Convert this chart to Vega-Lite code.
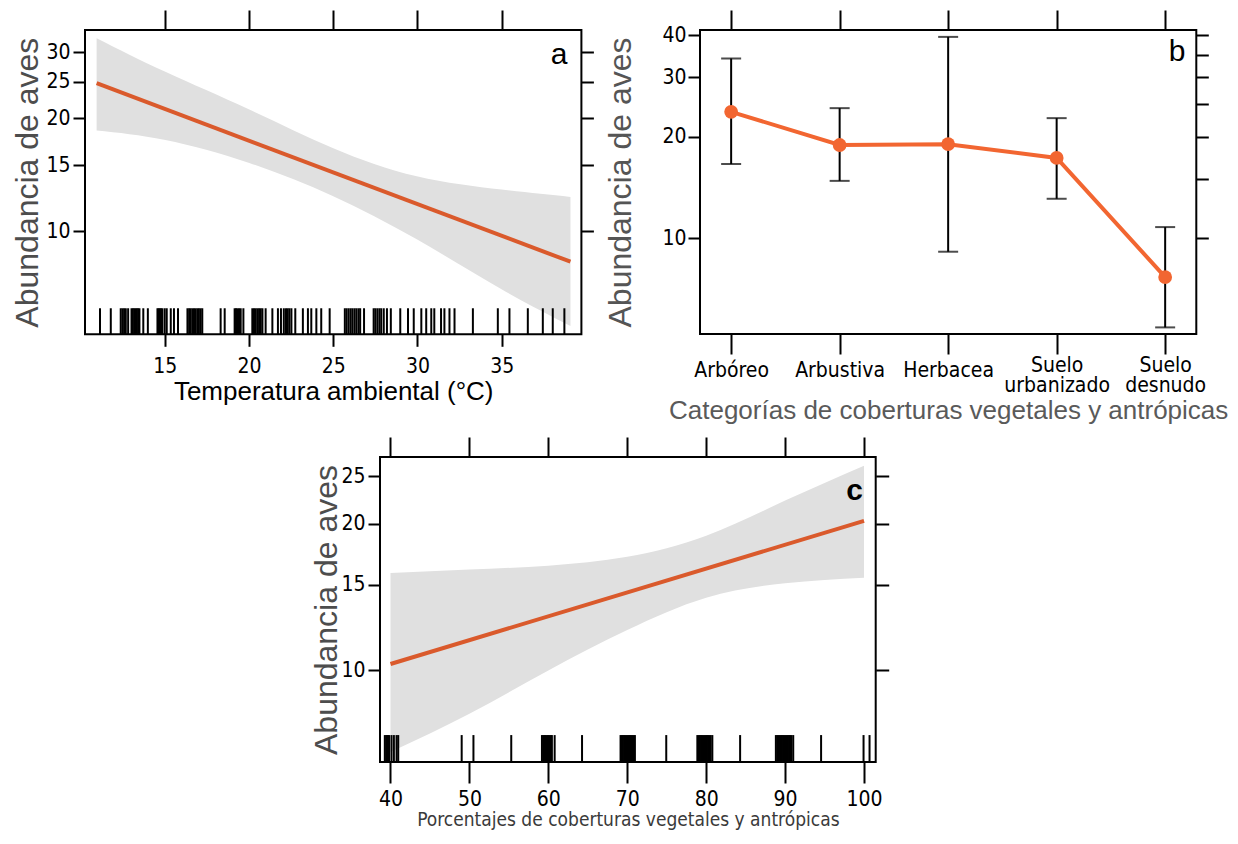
{
  "$schema": "https://vega.github.io/schema/vega-lite/v6.json",
  "background": "white",
  "padding": {"left": 10, "top": 8, "right": 0, "bottom": 0},
  "config": {
    "view": {"stroke": "#000", "strokeWidth": 2},
    "font": "Liberation Sans",
    "axis": {
      "domain": false, "grid": false, "tickColor": "#000", "tickWidth": 2,
      "labelColor": "#000", "labelFont": "DejaVu Sans Condensed, Roboto Condensed, Roboto, sans-serif", "labelFontSize": 21,
      "titleFont": "Liberation Sans", "titleFontWeight": "normal",
      "labelFlush": false, "labelOverlap": false, "labelBound": false
    }
  },
  "datasets": {
    "a_band": [
      {"temp": 10.96, "upper": 32.7, "lower": 18.56},
      {"temp": 15.04, "upper": 26.6, "lower": 17.5},
      {"temp": 20.02, "upper": 21.1, "lower": 15.2},
      {"temp": 24.97, "upper": 16.66, "lower": 12.4},
      {"temp": 29.96, "upper": 14.0, "lower": 9.5},
      {"temp": 34.99, "upper": 12.9, "lower": 6.99},
      {"temp": 39.08, "upper": 12.33, "lower": 5.58}
    ],
    "a_fit": [
      {"temp": 10.96, "fit": 24.8},
      {"temp": 39.08, "fit": 8.28}
    ],
    "a_rug": [
      {"temp": 11.16}, {"temp": 11.8}, {"temp": 12.39}, {"temp": 12.49}, {"temp": 12.59}, {"temp": 12.69}, {"temp": 12.83},
      {"temp": 13.03}, {"temp": 13.11}, {"temp": 13.19}, {"temp": 13.27}, {"temp": 13.34}, {"temp": 13.42}, {"temp": 13.5},
      {"temp": 13.73}, {"temp": 14.0}, {"temp": 14.57}, {"temp": 14.64}, {"temp": 14.7}, {"temp": 14.78}, {"temp": 14.86},
      {"temp": 15.0}, {"temp": 15.12}, {"temp": 15.36}, {"temp": 15.55}, {"temp": 15.79},
      {"temp": 16.35}, {"temp": 16.45}, {"temp": 16.54}, {"temp": 16.64}, {"temp": 16.74}, {"temp": 16.84}, {"temp": 16.94},
      {"temp": 17.03}, {"temp": 17.13}, {"temp": 17.23}, {"temp": 18.32}, {"temp": 18.56},
      {"temp": 19.15}, {"temp": 19.23}, {"temp": 19.31}, {"temp": 19.41}, {"temp": 19.51}, {"temp": 19.67},
      {"temp": 20.2}, {"temp": 20.3}, {"temp": 20.4}, {"temp": 20.5}, {"temp": 20.6}, {"temp": 20.7}, {"temp": 20.8},
      {"temp": 20.99}, {"temp": 21.39}, {"temp": 21.72}, {"temp": 21.9}, {"temp": 22.07}, {"temp": 22.2}, {"temp": 22.3},
      {"temp": 22.4}, {"temp": 22.52}, {"temp": 22.75}, {"temp": 23.2}, {"temp": 23.5}, {"temp": 23.7}, {"temp": 24.0},
      {"temp": 24.29}, {"temp": 24.79}, {"temp": 25.69}, {"temp": 25.8}, {"temp": 25.92}, {"temp": 26.04}, {"temp": 26.15},
      {"temp": 26.27}, {"temp": 26.38}, {"temp": 26.5}, {"temp": 26.6}, {"temp": 26.83},
      {"temp": 27.4}, {"temp": 27.5}, {"temp": 27.62}, {"temp": 27.74}, {"temp": 27.85}, {"temp": 28.0}, {"temp": 28.19},
      {"temp": 28.42}, {"temp": 28.98}, {"temp": 29.44},
      {"temp": 29.78}, {"temp": 30.23}, {"temp": 30.52}, {"temp": 30.82}, {"temp": 31.0}, {"temp": 31.4}, {"temp": 31.6},
      {"temp": 31.9}, {"temp": 32.2}, {"temp": 33.29}, {"temp": 34.77}, {"temp": 35.46}, {"temp": 36.55}, {"temp": 37.44},
      {"temp": 38.03}, {"temp": 38.72}
    ],
    "b_est": [
      {"cat": "Arbóreo", "fit": 23.7, "lo": 16.6, "hi": 34.1},
      {"cat": "Arbustiva", "fit": 18.9, "lo": 14.8, "hi": 24.3},
      {"cat": "Herbacea", "fit": 19.0, "lo": 9.13, "hi": 39.5},
      {"cat": "Suelo urbanizado", "fit": 17.3, "lo": 13.1, "hi": 22.7},
      {"cat": "Suelo desnudo", "fit": 7.68, "lo": 5.45, "hi": 10.8}
    ],
    "c_band": [
      {"pct": 40, "upper": 15.85, "lower": 6.8},
      {"pct": 50, "upper": 16.1, "lower": 8.15},
      {"pct": 60, "upper": 16.4, "lower": 10.0},
      {"pct": 70, "upper": 17.1, "lower": 12.1},
      {"pct": 80, "upper": 18.9, "lower": 14.1},
      {"pct": 90, "upper": 22.3, "lower": 15.1},
      {"pct": 100, "upper": 26.3, "lower": 15.5}
    ],
    "c_fit": [
      {"pct": 40, "fit": 10.31},
      {"pct": 100, "fit": 20.26}
    ],
    "c_rug": [
      {"pct": 39.28}, {"pct": 39.45}, {"pct": 39.58}, {"pct": 39.7}, {"pct": 39.83}, {"pct": 40.13}, {"pct": 40.43}, {"pct": 40.77}, {"pct": 40.98},
      {"pct": 49.02}, {"pct": 50.51}, {"pct": 55.3},
      {"pct": 59.19}, {"pct": 59.35}, {"pct": 59.5}, {"pct": 59.6}, {"pct": 59.75}, {"pct": 59.9}, {"pct": 60.0}, {"pct": 60.15}, {"pct": 60.3}, {"pct": 60.45}, {"pct": 60.8},
      {"pct": 64.27},
      {"pct": 69.15}, {"pct": 69.3}, {"pct": 69.45}, {"pct": 69.6}, {"pct": 69.75}, {"pct": 69.9}, {"pct": 70.05}, {"pct": 70.2}, {"pct": 70.35}, {"pct": 70.5}, {"pct": 70.65}, {"pct": 70.8}, {"pct": 70.97},
      {"pct": 74.94},
      {"pct": 78.88}, {"pct": 79.05}, {"pct": 79.2}, {"pct": 79.35}, {"pct": 79.5}, {"pct": 79.65}, {"pct": 79.8}, {"pct": 79.95}, {"pct": 80.1}, {"pct": 80.25}, {"pct": 80.4}, {"pct": 80.57}, {"pct": 80.78},
      {"pct": 84.3},
      {"pct": 88.83}, {"pct": 89.0}, {"pct": 89.15}, {"pct": 89.3}, {"pct": 89.45}, {"pct": 89.6}, {"pct": 89.75}, {"pct": 89.9}, {"pct": 90.05}, {"pct": 90.2}, {"pct": 90.35}, {"pct": 90.5}, {"pct": 90.65}, {"pct": 90.8}, {"pct": 91.03},
      {"pct": 94.56}, {"pct": 99.94}, {"pct": 100.7}
    ]
  },
  "vconcat": [
    {
      "hconcat": [
        {
          "width": 496.4, "height": 304.3,
          "layer": [
            {
              "data": {"name": "a_band"},
              "mark": {"type": "area", "color": "#E0E0E0", "interpolate": "natural"},
              "encoding": {
                "x": {"field": "temp", "type": "quantitative", "scale": {"domain": [10.27, 39.73], "nice": false, "zero": false},
                  "axis": {"orient": "bottom", "values": [15, 20, 25, 30, 35], "tickSize": 12, "labelPadding": 9,
                    "title": "Temperatura ambiental (°C)", "titleFontSize": 26, "titleColor": "#000", "titlePadding": 2}},
                "y": {"field": "upper", "type": "quantitative", "scale": {"type": "log", "domain": [5.3, 34.4], "nice": false},
                  "axis": {"orient": "left", "values": [10, 15, 20, 25, 30], "labelExpr": "format(datum.value, 'd')", "tickSize": 12, "labelPadding": 3,
                    "title": "Abundancia de aves", "titleFontSize": 32, "titleColor": "#4d4d4d", "titlePadding": 1}},
                "y2": {"field": "lower"}
              }
            },
            {
              "data": {"name": "a_fit"},
              "mark": {"type": "line", "color": "#DA5A2C", "strokeWidth": 4},
              "encoding": {
                "x": {"field": "temp", "type": "quantitative",
                  "axis": {"orient": "top", "values": [15, 20, 25, 30, 35], "labels": false, "tickSize": 20, "title": null}},
                "y": {"field": "fit", "type": "quantitative",
                  "axis": {"orient": "right", "values": [10, 15, 20, 25, 30], "labels": false, "tickSize": 12, "title": null}}
              }
            },
            {
              "data": {"name": "a_rug"},
              "mark": {"type": "rule", "color": "#000", "strokeWidth": 2},
              "encoding": {
                "x": {"field": "temp", "type": "quantitative", "axis": null},
                "y": {"datum": 5.3, "axis": null},
                "y2": {"datum": 6.22}
              }
            },
            {
              "data": {"values": [{}]},
              "mark": {"type": "text", "text": "a", "font": "Liberation Sans", "fontSize": 30, "color": "#000", "align": "center", "baseline": "middle"},
              "encoding": {
                "x": {"datum": 38.4, "axis": null},
                "y": {"datum": 29.5, "axis": null}
              }
            }
          ],
          "resolve": {"axis": {"x": "independent", "y": "independent"}}
        },
        {
          "width": 496.3, "height": 304,
          "data": {"name": "b_est"},
          "layer": [
            {
              "mark": {"type": "rule", "color": "#000", "strokeWidth": 2},
              "encoding": {
                "x": {"field": "cat", "type": "nominal",
                  "scale": {"type": "point", "padding": 0.287, "domain": ["Arbóreo", "Arbustiva", "Herbacea", "Suelo urbanizado", "Suelo desnudo"]},
                  "axis": {"orient": "bottom", "tickSize": 20, "labelAngle": 0, "labelFontSize": 21, "labelBaseline": "top", "labelLineHeight": 20,
                    "labelPadding": {"condition": {"test": "indexof(datum.value, 'Suelo') == 0", "value": 0}, "value": 5},
                    "labelExpr": "datum.value == 'Suelo urbanizado' ? ['Suelo', 'urbanizado'] : datum.value == 'Suelo desnudo' ? ['Suelo', 'desnudo'] : datum.value",
                    "title": "Categorías de coberturas vegetales y antrópicas", "titleFontSize": 26, "titleColor": "#5a5a5a", "titlePadding": 2}},
                "y": {"field": "lo", "type": "quantitative", "scale": {"type": "log", "domain": [5.21, 41.4], "nice": false},
                  "axis": {"orient": "left", "values": [10, 20, 30, 40], "labelExpr": "format(datum.value, 'd')", "tickSize": 12, "labelPadding": 2,
                    "title": "Abundancia de aves", "titleFontSize": 32, "titleColor": "#555555", "titlePadding": 24}},
                "y2": {"field": "hi"}
              }
            },
            {
              "mark": {"type": "tick", "orient": "horizontal", "size": 20, "thickness": 2, "color": "#000"},
              "encoding": {
                "x": {"field": "cat", "type": "nominal", "axis": null},
                "y": {"field": "hi", "type": "quantitative", "axis": null}
              }
            },
            {
              "mark": {"type": "tick", "orient": "horizontal", "size": 20, "thickness": 2, "color": "#000"},
              "encoding": {
                "x": {"field": "cat", "type": "nominal", "axis": null},
                "y": {"field": "lo", "type": "quantitative", "axis": null}
              }
            },
            {
              "mark": {"type": "line", "color": "#F26631", "strokeWidth": 4},
              "encoding": {
                "x": {"field": "cat", "type": "nominal", "sort": null,
                  "axis": {"orient": "top", "labels": false, "tickSize": 20, "title": null}},
                "y": {"field": "fit", "type": "quantitative",
                  "axis": {"orient": "right", "values": [10, 15, 20, 25, 30, 35, 40], "labels": false, "tickSize": 12, "title": null}}
              }
            },
            {
              "mark": {"type": "point", "filled": true, "size": 190, "opacity": 1, "color": "#F26631"},
              "encoding": {
                "x": {"field": "cat", "type": "nominal", "axis": null},
                "y": {"field": "fit", "type": "quantitative", "axis": null}
              }
            },
            {
              "data": {"values": [{}]},
              "mark": {"type": "text", "text": "b", "font": "Liberation Sans", "fontSize": 30, "color": "#000", "align": "center", "baseline": "middle", "dx": 12},
              "encoding": {
                "x": {"datum": "Suelo desnudo", "type": "nominal", "axis": null},
                "y": {"datum": 35.6, "axis": null}
              }
            }
          ],
          "resolve": {"axis": {"x": "independent", "y": "independent"}}
        }
      ],
      "spacing": 118,
      "bounds": "flush"
    },
    {
      "hconcat": [
        {
          "width": 295, "height": 10,
          "data": {"values": []},
          "mark": "point",
          "encoding": {},
          "view": {"stroke": null}
        },
        {
          "width": 495.7, "height": 305,
          "layer": [
            {
              "data": {"name": "c_band"},
              "mark": {"type": "area", "color": "#E0E0E0", "interpolate": "natural"},
              "encoding": {
                "x": {"field": "pct", "type": "quantitative", "scale": {"domain": [38.67, 101.48], "nice": false, "zero": false},
                  "axis": {"orient": "bottom", "values": [40, 50, 60, 70, 80, 90, 100], "tickSize": 21, "labelPadding": 5,
                    "title": "Porcentajes de coberturas vegetales y antrópicas", "titleFont": "DejaVu Sans Condensed, Roboto Condensed, Roboto, sans-serif", "titleFontSize": 19, "titleColor": "#3a3a3a", "titlePadding": 1}},
                "y": {"field": "upper", "type": "quantitative", "scale": {"type": "log", "domain": [6.49, 27.4], "nice": false},
                  "axis": {"orient": "left", "values": [10, 15, 20, 25], "labelExpr": "format(datum.value, 'd')", "tickSize": 12, "labelPadding": 3,
                    "title": "Abundancia de aves", "titleFontSize": 32, "titleColor": "#4d4d4d", "titlePadding": -3}},
                "y2": {"field": "lower"}
              }
            },
            {
              "data": {"name": "c_fit"},
              "mark": {"type": "line", "color": "#DA5A2C", "strokeWidth": 4},
              "encoding": {
                "x": {"field": "pct", "type": "quantitative",
                  "axis": {"orient": "top", "values": [40, 50, 60, 70, 80, 90, 100], "labels": false, "tickSize": 20, "title": null}},
                "y": {"field": "fit", "type": "quantitative",
                  "axis": {"orient": "right", "values": [10, 15, 20, 25], "labels": false, "tickSize": 13, "title": null}}
              }
            },
            {
              "data": {"name": "c_rug"},
              "mark": {"type": "rule", "color": "#000", "strokeWidth": 2},
              "encoding": {
                "x": {"field": "pct", "type": "quantitative", "axis": null},
                "y": {"datum": 6.49, "axis": null},
                "y2": {"datum": 7.37}
              }
            },
            {
              "data": {"values": [{}]},
              "mark": {"type": "text", "text": "c", "font": "Liberation Sans", "fontSize": 30, "fontWeight": "bold", "color": "#000", "align": "center", "baseline": "middle"},
              "encoding": {
                "x": {"datum": 98.8, "axis": null},
                "y": {"datum": 23.3, "axis": null}
              }
            }
          ],
          "resolve": {"axis": {"x": "independent", "y": "independent"}}
        }
      ],
      "spacing": 0,
      "bounds": "flush"
    }
  ],
  "spacing": 11,
  "bounds": "full"
}
